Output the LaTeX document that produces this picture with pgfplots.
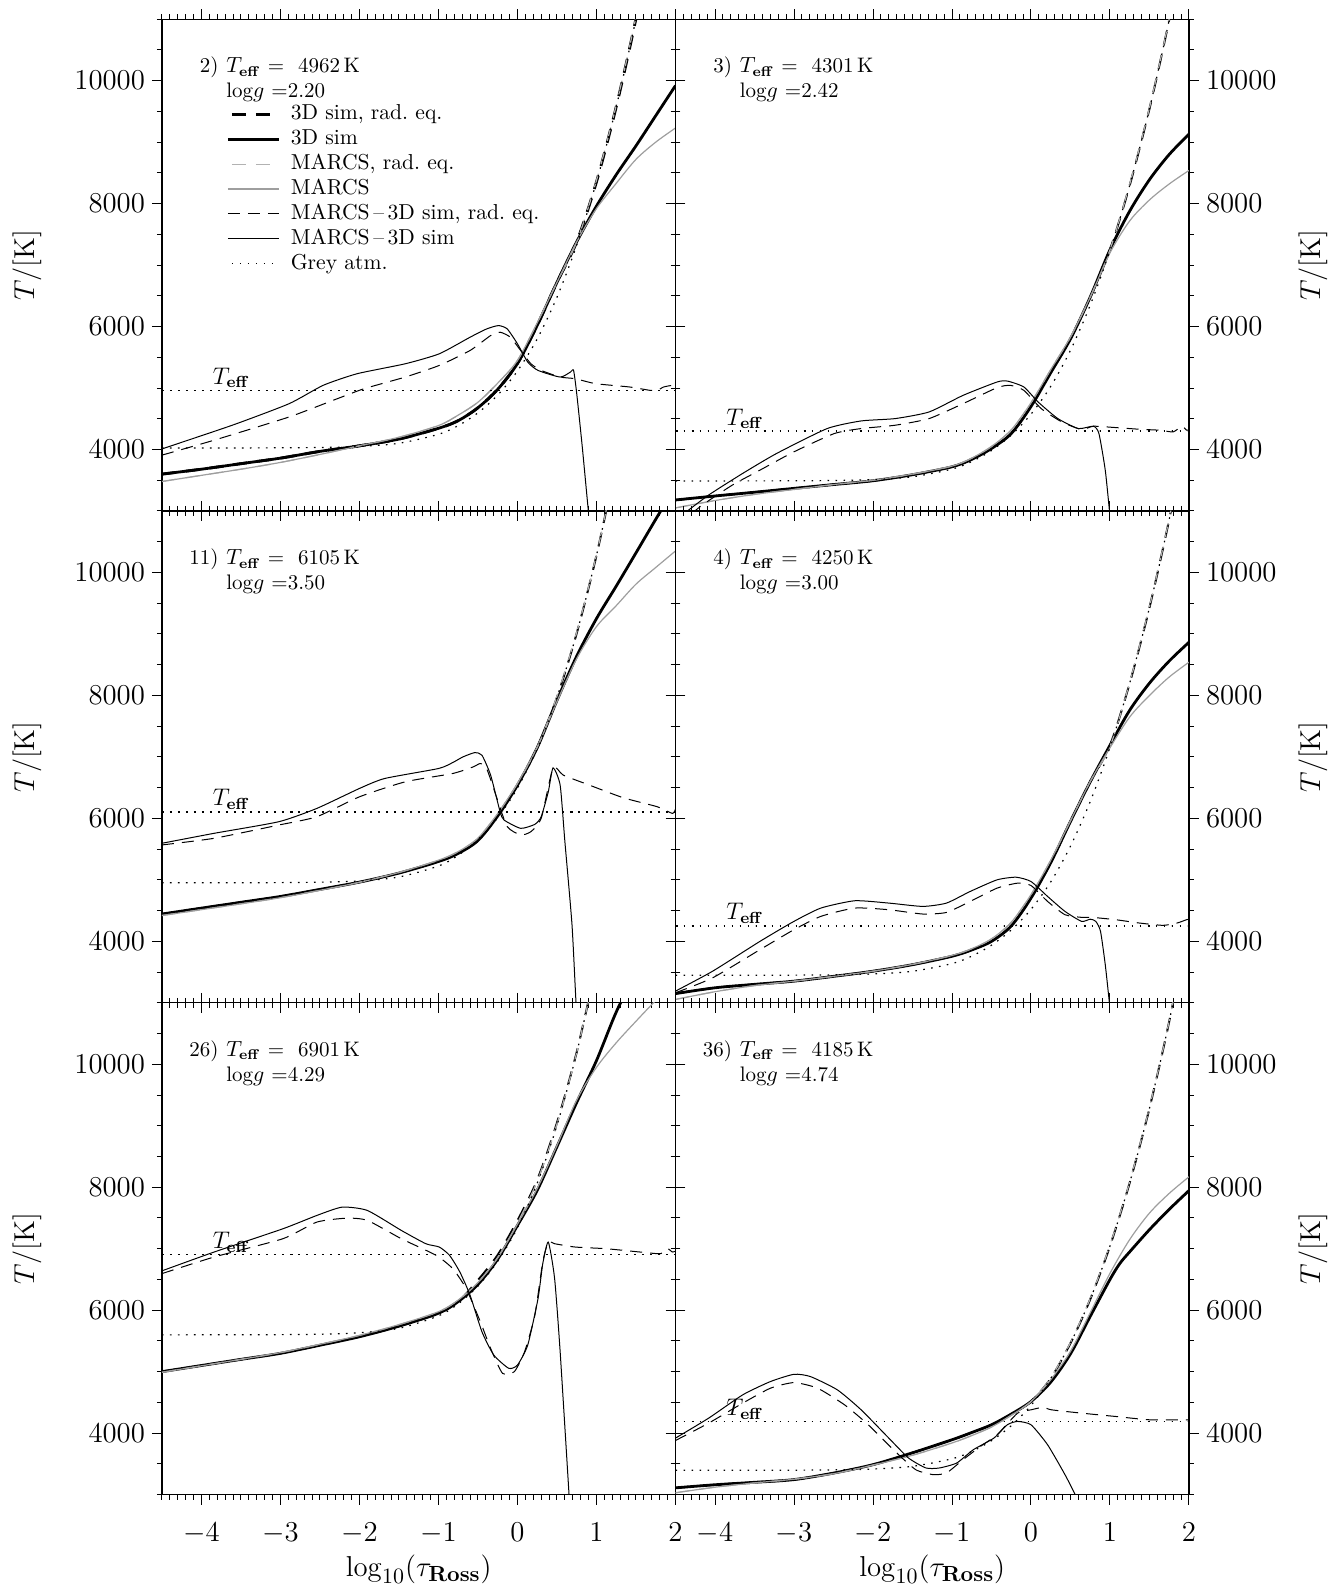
\documentclass[border=0pt]{standalone}
\usepackage{pgfplots}
\pgfplotsset{compat=1.18}
\tikzset{
  radsim/.style={black, line width=1.0pt, dash pattern=on 7pt off 5pt, smooth},
  sim/.style={black, line width=1.4pt, smooth},
  radmarcs/.style={black!30, line width=0.6pt, dash pattern=on 7pt off 5pt, smooth},
  marcs/.style={black!38, line width=0.6pt, smooth},
  drad/.style={black, line width=0.5pt, dash pattern=on 6pt off 4pt, smooth, tension=0.35},
  dsim/.style={black, line width=0.5pt, smooth, tension=0.35},
  greyatm/.style={black, line width=0.6pt, dash pattern=on 0.8pt off 3.2pt, smooth},
  tefflab/.style={anchor=south, font=\fontsize{12}{14}\selectfont, inner sep=1pt},
  numlab/.style={anchor=east, font=\fontsize{10.5}{12}\selectfont, inner sep=0pt},
  parlab/.style={anchor=west, font=\fontsize{10.5}{12}\selectfont, inner sep=0pt},
}
\pgfplotsset{
  panel/.style={
    scale only axis, width=256.75pt, height=245.9pt,
    xmin=-4.5, xmax=2, ymin=3000, ymax=11000,
    xtick={-4,-3,-2,-1,0,1,2},
    minor xtick={-4.5,-4.4,...,2.01},
    ytick={4000,6000,8000,10000},
    minor ytick={3000,3500,...,11000},
    scaled y ticks=false,
    tick align=outside,
    major tick length=5pt, minor tick length=2.5pt,
    tick style={black, line width=0.5pt},
    axis line style={line width=0.6pt},
    /pgf/number format/1000 sep={},
    tick label style={font=\fontsize{14}{16}\selectfont},
    xticklabel style={yshift=-5.5pt},
    anchor=south west, clip=true,
  },
  leftpanel/.style={panel, yticklabel pos=left,
    ylabel={$T/[\mathrm{K}]$},
    every axis y label/.style={at={(axis description cs:0,0.5)}, xshift=-67.5pt, rotate=90, anchor=center, font=\fontsize{15}{18}\selectfont}},
  rightpanel/.style={panel, yticklabel pos=right,
    ylabel={$T/[\mathrm{K}]$},
    every axis y label/.style={at={(axis description cs:1,0.5)}, xshift=62pt, rotate=90, anchor=center, font=\fontsize{15}{18}\selectfont}},
  notx/.style={xticklabels={}},
  botx/.style={xlabel={$\log_{10}(\tau_{\mathbf{Ross}})$},
    every axis x label/.style={at={(axis description cs:0.5,0)}, yshift=-37.5pt, anchor=center, font=\fontsize{15}{18}\selectfont}},
}
\begin{document}
\begin{tikzpicture}
\useasboundingbox (0,0) rectangle (671.5pt,793.5pt);

% ---------------- Panel 2 (top left)
\begin{axis}[leftpanel, notx, at={(81pt,538pt)},
  legend image code/.code={\draw[#1, dash phase=10pt] (0pt,0pt) -- (25.5pt,0pt);},
  legend cell align=left,
  legend style={at={(axis cs:-3.69,9630)}, anchor=north west, draw=none, fill=none, inner sep=0pt,
    font=\fontsize{10.8}{12}\selectfont, row sep=1.95pt, column sep=5.3pt,
    nodes={inner sep=0pt, text height=8pt, text depth=2.5pt}}]
\addplot[radsim, line width=1.4pt] coordinates {(-4.5,3600)(-4,3680)(-3.5,3770)(-3,3860)(-2.5,3970)(-2,4060)(-1.5,4170)(-1,4345)(-0.75,4470)(-0.5,4680)(-0.25,4980)(0,5400)(0.25,6020)(0.5,6720)(0.75,7380)(1,8354)(1.25,9576)(1.5,11011)(1.75,12685)};
\addlegendentry{3D sim, rad.\ eq.}
\addplot[sim] coordinates {(-4.5,3600)(-4,3680)(-3.5,3770)(-3,3860)(-2.5,3970)(-2,4060)(-1.5,4170)(-1,4345)(-0.75,4470)(-0.5,4680)(-0.25,4980)(0,5400)(0.25,6020)(0.5,6720)(0.75,7380)(1,7960)(1.25,8470)(1.5,8940)(1.75,9430)(2,9920)};
\addlegendentry{3D sim}
\addplot[radmarcs] coordinates {(-4.5,3480)(-4,3580)(-3.5,3680)(-3,3790)(-2.5,3920)(-2,4060)(-1.5,4200)(-1,4390)(-0.75,4560)(-0.5,4770)(-0.25,5080)(0,5450)(0.25,6060)(0.5,6720)(0.75,7380)(1,8380)(1.25,9600)(1.5,11040)(1.75,12700)};
\addlegendentry{MARCS, rad.\ eq.}
\addplot[marcs] coordinates {(-4.5,3480)(-4,3580)(-3.5,3680)(-3,3790)(-2.5,3920)(-2,4060)(-1.5,4200)(-1,4390)(-0.75,4560)(-0.5,4770)(-0.25,5080)(0,5450)(0.25,6060)(0.5,6720)(0.75,7380)(1,7920)(1.25,8330)(1.5,8720)(1.75,9000)(2,9230)};
\addlegendentry{MARCS}
\addplot[drad] coordinates {(-4.5,3909)(-3.84,4152)(-2.89,4530)(-2.28,4827)(-1.94,4990)(-1.42,5179)(-0.99,5368)(-0.60,5611)(-0.34,5854)(-0.22,5908)(-0.09,5827)(0.04,5611)(0.17,5395)(0.30,5287)(0.54,5179)(0.73,5152)(0.99,5071)(1.42,5017)(1.68,4962)(1.77,4962)(1.85,5017)(1.96,5044)(2,5030)};
\addlegendentry{MARCS\,--\,3D sim, rad.\ eq.}
\addplot[dsim] coordinates {(-4.5,4010)(-3.6,4400)(-2.89,4746)(-2.46,5044)(-2.03,5233)(-1.42,5395)(-0.99,5557)(-0.60,5827)(-0.39,5962)(-0.24,6016)(-0.13,5962)(0,5719)(0.13,5422)(0.26,5287)(0.54,5179)(0.67,5260)(0.71,5287)(0.75,4908)(0.82,4044)(0.90,2963)(0.92,2800)};
\addlegendentry{MARCS\,--\,3D sim}
\addplot[greyatm] coordinates {(-4.5,4025)(-4,4026)(-3.5,4026)(-3,4028)(-2.5,4033)(-2,4050)(-1.5,4102)(-1,4248)(-0.75,4389)(-0.5,4597)(-0.25,4886)(0,5278)(0.25,5800)(0.5,6478)(0.75,7325)(1,8354)(1.25,9576)(1.5,11011)(1.75,12685)};
\addlegendentry{Grey atm.}
\addplot[greyatm, forget plot] coordinates {(-4.5,4962)(2,4962)};
\node[tefflab] at (axis cs:-3.62,4962) {$T_{\mathbf{eff}}$};
\node[numlab] at (axis cs:-3.78,10220) {2)};
\node[parlab] at (axis cs:-3.69,10220) {$T_{\mathbf{eff}}$ = \ 4962\,K};
\node[parlab] at (axis cs:-3.69,9810) {log$g$ =2.20};
\end{axis}

% ---------------- Panel 3 (top right)
\begin{axis}[rightpanel, notx, at={(337.75pt,538pt)}]
\addplot[radsim] coordinates {(-4.5,3179)(-4,3244)(-3.5,3305)(-3,3368)(-2.5,3430)(-2,3492)(-1.5,3590)(-1,3719)(-0.75,3840)(-0.5,4017)(-0.25,4260)(0,4700)(0.25,5250)(0.5,5800)(0.75,6480)(1,7250)(1.25,8300)(1.5,9544)(1.75,10995)(2,12679)};
\addplot[sim] coordinates {(-4.5,3179)(-4,3244)(-3.5,3305)(-3,3368)(-2.5,3430)(-2,3492)(-1.5,3590)(-1,3719)(-0.75,3840)(-0.5,4017)(-0.25,4260)(0,4700)(0.25,5250)(0.5,5800)(0.75,6480)(1,7250)(1.25,7880)(1.5,8390)(1.75,8800)(2,9130)};
\addplot[radmarcs] coordinates {(-4.5,3050)(-4,3170)(-3.5,3270)(-3,3350)(-2.5,3430)(-2,3500)(-1.5,3600)(-1,3730)(-0.75,3860)(-0.5,4050)(-0.25,4320)(0,4760)(0.25,5300)(0.5,5830)(0.75,6480)(1,7250)(1.25,8320)(1.5,9560)(1.75,11010)(2,12690)};
\addplot[marcs] coordinates {(-4.5,3050)(-4,3170)(-3.5,3270)(-3,3350)(-2.5,3430)(-2,3500)(-1.5,3600)(-1,3730)(-0.75,3860)(-0.5,4050)(-0.25,4320)(0,4760)(0.25,5300)(0.5,5830)(0.75,6480)(1,7200)(1.25,7720)(1.5,8060)(1.75,8320)(2,8540)};
\addplot[drad] coordinates {(-4.3,2950)(-4.16,3098)(-3.78,3422)(-3.43,3665)(-3.00,3963)(-2.49,4260)(-2.15,4341)(-1.72,4395)(-1.29,4503)(-0.86,4746)(-0.43,5006)(-0.26,5044)(-0.09,4962)(0.13,4665)(0.39,4449)(0.64,4325)(0.79,4379)(1.07,4357)(1.37,4330)(1.63,4314)(1.80,4287)(1.91,4379)(1.97,4314)(2,4320)};
\addplot[dsim] coordinates {(-4.4,2950)(-4.08,3260)(-3.65,3611)(-3.22,3936)(-2.58,4341)(-2.15,4465)(-1.72,4503)(-1.29,4611)(-0.86,4881)(-0.43,5098)(-0.30,5114)(-0.09,5017)(0.09,4773)(0.34,4503)(0.60,4341)(0.79,4379)(0.86,4260)(0.94,3665)(0.996,2963)(1.0,2850)};
\addplot[greyatm] coordinates {(-4.5,3489)(-4,3489)(-3.5,3490)(-3,3491)(-2.5,3496)(-2,3510)(-1.5,3556)(-1,3682)(-0.75,3804)(-0.5,3984)(-0.25,4235)(0,4575)(0.25,5027)(0.5,5615)(0.75,6350)(1,7241)(1.25,8300)(1.5,9544)(1.75,10995)(2,12679)};
\addplot[greyatm] coordinates {(-4.5,4301)(2,4301)};
\node[tefflab] at (axis cs:-3.62,4301) {$T_{\mathbf{eff}}$};
\node[numlab] at (axis cs:-3.78,10220) {3)};
\node[parlab] at (axis cs:-3.69,10220) {$T_{\mathbf{eff}}$ = \ 4301\,K};
\node[parlab] at (axis cs:-3.69,9810) {log$g$ =2.42};
\end{axis}

% ---------------- Panel 11 (middle left)
\begin{axis}[leftpanel, notx, at={(81pt,292.1pt)}]
\addplot[radsim] coordinates {(-4.5,4444)(-4,4540)(-3.5,4635)(-3,4730)(-2.5,4845)(-2,4963)(-1.5,5110)(-1,5298)(-0.75,5430)(-0.5,5640)(-0.25,6040)(0,6541)(0.25,7150)(0.5,7970)(0.75,9013)(1,10278)(1.25,11781)};
\addplot[sim] coordinates {(-4.5,4444)(-4,4540)(-3.5,4635)(-3,4730)(-2.5,4845)(-2,4963)(-1.5,5110)(-1,5298)(-0.75,5430)(-0.5,5640)(-0.25,6040)(0,6541)(0.25,7150)(0.5,7920)(0.75,8640)(1,9250)(1.25,9778)(1.5,10319)(1.75,10865)(2,11400)};
\addplot[radmarcs] coordinates {(-4.5,4420)(-4,4515)(-3.5,4610)(-3,4710)(-2.5,4830)(-2,4960)(-1.5,5120)(-1,5320)(-0.75,5460)(-0.5,5680)(-0.25,6080)(0,6570)(0.25,7160)(0.5,7990)(0.75,9030)(1,10290)(1.25,11790)};
\addplot[marcs] coordinates {(-4.5,4420)(-4,4515)(-3.5,4610)(-3,4710)(-2.5,4830)(-2,4960)(-1.5,5120)(-1,5320)(-0.75,5460)(-0.5,5680)(-0.25,6080)(0,6570)(0.25,7160)(0.5,7900)(0.75,8600)(1,9120)(1.25,9460)(1.5,9810)(1.75,10081)(2,10350)};
\addplot[drad] coordinates {(-4.5,5568)(-3.84,5676)(-3.02,5892)(-2.54,6027)(-2,6351)(-1.42,6595)(-0.82,6730)(-0.56,6838)(-0.47,6892)(-0.39,6811)(-0.26,6325)(-0.13,5865)(0.04,5730)(0.17,5784)(0.30,6000)(0.45,6822)(0.58,6703)(0.91,6541)(1.34,6335)(1.77,6189)(1.96,6081)(2,6150)};
\addplot[dsim] coordinates {(-4.5,5595)(-3.84,5757)(-3.02,5946)(-2.54,6162)(-2.0,6487)(-1.68,6649)(-1,6811)(-0.82,6908)(-0.69,7000)(-0.54,7070)(-0.45,7027)(-0.34,6703)(-0.22,6108)(-0.17,5973)(0.04,5838)(0.22,5903)(0.30,6027)(0.39,6433)(0.45,6822)(0.54,6541)(0.60,5622)(0.69,4271)(0.74,3027)(0.76,2850)};
\addplot[greyatm] coordinates {(-4.5,4952)(-4,4953)(-3.5,4954)(-3,4955)(-2.5,4962)(-2,4983)(-1.5,5047)(-1,5226)(-0.75,5400)(-0.5,5656)(-0.25,6012)(0,6493)(0.25,7136)(0.5,7970)(0.75,9013)(1,10278)(1.25,11781)};
\addplot[greyatm] coordinates {(-4.5,6105)(2,6105)};
\node[tefflab] at (axis cs:-3.62,6105) {$T_{\mathbf{eff}}$};
\node[numlab] at (axis cs:-3.78,10220) {11)};
\node[parlab] at (axis cs:-3.69,10220) {$T_{\mathbf{eff}}$ = \ 6105\,K};
\node[parlab] at (axis cs:-3.69,9810) {log$g$ =3.50};
\end{axis}

% ---------------- Panel 4 (middle right)
\begin{axis}[rightpanel, notx, at={(337.75pt,292.1pt)}]
\addplot[radsim] coordinates {(-4.5,3150)(-4,3244)(-3.5,3300)(-3,3352)(-2.5,3430)(-2,3514)(-1.5,3620)(-1,3757)(-0.75,3860)(-0.5,4000)(-0.25,4250)(0,4703)(0.25,5280)(0.5,5950)(0.75,6595)(1,7189)(1.25,8202)(1.5,9431)(1.75,10865)(2,12529)};
\addplot[sim] coordinates {(-4.5,3150)(-4,3244)(-3.5,3300)(-3,3352)(-2.5,3430)(-2,3514)(-1.5,3620)(-1,3757)(-0.75,3860)(-0.5,4000)(-0.25,4250)(0,4703)(0.25,5280)(0.5,5950)(0.75,6595)(1,7189)(1.25,7760)(1.5,8200)(1.75,8560)(2,8865)};
\addplot[radmarcs] coordinates {(-4.5,3055)(-4,3180)(-3.5,3280)(-3,3352)(-2.5,3430)(-2,3514)(-1.5,3625)(-1,3770)(-0.75,3880)(-0.5,4040)(-0.25,4310)(0,4760)(0.25,5320)(0.5,5960)(0.75,6600)(1,7170)(1.25,8215)(1.5,9445)(1.75,10880)(2,12540)};
\addplot[marcs] coordinates {(-4.5,3055)(-4,3180)(-3.5,3280)(-3,3352)(-2.5,3430)(-2,3514)(-1.5,3625)(-1,3770)(-0.75,3880)(-0.5,4040)(-0.25,4310)(0,4760)(0.25,5320)(0.5,5960)(0.75,6600)(1,7150)(1.25,7650)(1.5,8000)(1.75,8300)(2,8541)};
\addplot[drad] coordinates {(-4.5,3163)(-4.03,3406)(-3.43,3865)(-3.00,4190)(-2.66,4406)(-2.23,4541)(-1.80,4514)(-1.37,4444)(-1.07,4470)(-0.77,4649)(-0.43,4865)(-0.17,4946)(0,4908)(0.21,4649)(0.43,4433)(0.64,4390)(0.77,4390)(1.07,4352)(1.37,4298)(1.67,4260)(1.85,4298)(1.97,4352)(2,4360)};
\addplot[dsim] coordinates {(-4.5,3190)(-4.03,3514)(-3.43,4000)(-3.00,4325)(-2.66,4541)(-2.23,4660)(-1.80,4622)(-1.37,4568)(-1.07,4622)(-0.77,4811)(-0.43,5000)(-0.19,5043)(0,4973)(0.21,4730)(0.43,4487)(0.64,4325)(0.75,4360)(0.82,4325)(0.88,4163)(0.94,3622)(0.99,3027)(1.0,2850)};
\addplot[greyatm] coordinates {(-4.5,3448)(-4,3448)(-3.5,3448)(-3,3450)(-2.5,3454)(-2,3469)(-1.5,3513)(-1,3638)(-0.75,3759)(-0.5,3937)(-0.25,4185)(0,4520)(0.25,4967)(0.5,5548)(0.75,6274)(1,7155)(1.25,8202)(1.5,9431)(1.75,10865)(2,12529)};
\addplot[greyatm] coordinates {(-4.5,4250)(2,4250)};
\node[tefflab] at (axis cs:-3.62,4250) {$T_{\mathbf{eff}}$};
\node[numlab] at (axis cs:-3.78,10220) {4)};
\node[parlab] at (axis cs:-3.69,10220) {$T_{\mathbf{eff}}$ = \ 4250\,K};
\node[parlab] at (axis cs:-3.69,9810) {log$g$ =3.00};
\end{axis}

% ---------------- Panel 26 (bottom left)
\begin{axis}[leftpanel, botx, at={(81pt,46.2pt)}]
\addplot[radsim] coordinates {(-4.5,5000)(-4,5100)(-3.5,5200)(-3,5298)(-2.5,5430)(-2,5568)(-1.5,5740)(-1,5950)(-0.75,6140)(-0.5,6490)(-0.25,6900)(0,7460)(0.25,8120)(0.5,9050)(0.75,10200)(1,11618)};
\addplot[sim] coordinates {(-4.5,5000)(-4,5100)(-3.5,5200)(-3,5298)(-2.5,5430)(-2,5568)(-1.5,5740)(-1,5950)(-0.75,6140)(-0.5,6420)(-0.25,6830)(0,7379)(0.25,7950)(0.5,8660)(0.75,9380)(1,10060)(1.25,10850)(1.5,11500)};
\addplot[radmarcs] coordinates {(-4.5,4990)(-4,5095)(-3.5,5200)(-3,5310)(-2.5,5445)(-2,5590)(-1.5,5765)(-1,5975)(-0.75,6165)(-0.5,6450)(-0.25,6860)(0,7420)(0.25,8100)(0.5,9030)(0.75,10195)(1,11618)};
\addplot[marcs] coordinates {(-4.5,4990)(-4,5095)(-3.5,5200)(-3,5310)(-2.5,5445)(-2,5590)(-1.5,5765)(-1,5975)(-0.75,6165)(-0.5,6450)(-0.25,6850)(0,7400)(0.25,7980)(0.5,8680)(0.75,9420)(1,9950)(1.25,10350)(1.5,10700)(1.75,11040)};
\addplot[drad] coordinates {(-4.5,6595)(-3.84,6865)(-2.97,7162)(-2.54,7433)(-2.16,7497)(-1.90,7460)(-1.47,7162)(-1.03,6892)(-0.82,6676)(-0.65,6352)(-0.47,5811)(-0.34,5378)(-0.19,4973)(-0.04,5000)(0.09,5324)(0.22,5919)(0.32,6784)(0.39,7108)(0.47,7081)(0.73,7027)(1.12,7000)(1.55,6946)(1.81,6919)(1.90,7000)(1.96,6946)(2,6960)};
\addplot[dsim] coordinates {(-4.5,6640)(-3.84,6946)(-2.97,7324)(-2.54,7541)(-2.22,7676)(-1.90,7622)(-1.47,7297)(-1.16,7081)(-0.99,7027)(-0.86,6892)(-0.73,6622)(-0.60,6243)(-0.45,5649)(-0.30,5270)(-0.11,5054)(0,5108)(0.13,5433)(0.26,6189)(0.32,6757)(0.39,7108)(0.47,6514)(0.54,5325)(0.65,3054)(0.66,2850)};
\addplot[greyatm] coordinates {(-4.5,5598)(-4,5599)(-3.5,5600)(-3,5602)(-2.5,5609)(-2,5633)(-1.5,5705)(-1,5908)(-0.75,6104)(-0.5,6393)(-0.25,6795)(0,7340)(0.25,8066)(0.5,9009)(0.75,10188)(1,11618)};
\addplot[greyatm] coordinates {(-4.5,6901)(2,6901)};
\node[tefflab] at (axis cs:-3.62,6901) {$T_{\mathbf{eff}}$};
\node[numlab] at (axis cs:-3.78,10220) {26)};
\node[parlab] at (axis cs:-3.69,10220) {$T_{\mathbf{eff}}$ = \ 6901\,K};
\node[parlab] at (axis cs:-3.69,9810) {log$g$ =4.29};
\end{axis}

% ---------------- Panel 36 (bottom right)
\begin{axis}[rightpanel, botx, at={(337.75pt,46.2pt)}]
\addplot[radsim] coordinates {(-4.5,3110)(-4,3160)(-3.5,3200)(-3,3244)(-2.5,3350)(-2,3487)(-1.5,3680)(-1,3892)(-0.75,4010)(-0.5,4136)(-0.25,4310)(0,4514)(0.25,4891)(0.5,5464)(0.75,6178)(1,7045)(1.25,8076)(1.5,9287)(1.75,10699)(2,12337)};
\addplot[sim] coordinates {(-4.5,3110)(-4,3160)(-3.5,3200)(-3,3244)(-2.5,3350)(-2,3487)(-1.5,3680)(-1,3892)(-0.75,4010)(-0.5,4136)(-0.25,4310)(0,4514)(0.25,4830)(0.5,5290)(0.75,5900)(1,6500)(1.125,6760)(1.25,6950)(1.5,7310)(1.75,7640)(2,7946)};
\addplot[radmarcs] coordinates {(-4.5,3030)(-4,3120)(-3.5,3190)(-3,3250)(-2.5,3340)(-2,3480)(-1.5,3640)(-1,3840)(-0.75,3960)(-0.5,4100)(-0.25,4290)(0,4514)(0.25,4900)(0.5,5475)(0.75,6190)(1,7060)(1.25,8090)(1.5,9300)(1.75,10710)(2,12350)};
\addplot[marcs] coordinates {(-4.5,3030)(-4,3120)(-3.5,3190)(-3,3250)(-2.5,3340)(-2,3480)(-1.5,3640)(-1,3840)(-0.75,3960)(-0.5,4100)(-0.25,4290)(0,4514)(0.25,4870)(0.5,5330)(0.75,5960)(1,6600)(1.25,7150)(1.5,7580)(1.75,7900)(2,8170)};
\addplot[drad] coordinates {(-4.5,3880)(-4.08,4163)(-3.65,4487)(-3.30,4730)(-3.00,4822)(-2.70,4730)(-2.36,4460)(-2.06,4136)(-1.72,3703)(-1.46,3406)(-1.24,3325)(-1.07,3352)(-0.86,3568)(-0.64,3784)(-0.43,3973)(-0.17,4325)(0,4379)(0.15,4420)(0.26,4379)(0.64,4325)(1.07,4271)(1.50,4217)(2,4217)};
\addplot[dsim] coordinates {(-4.5,3919)(-4.08,4244)(-3.65,4622)(-3.30,4838)(-3.00,4957)(-2.79,4919)(-2.45,4703)(-2.15,4379)(-1.80,3919)(-1.55,3595)(-1.33,3433)(-1.16,3433)(-0.94,3514)(-0.73,3730)(-0.47,3919)(-0.30,4136)(-0.17,4190)(0,4136)(0.21,3811)(0.43,3325)(0.56,3000)(0.6,2900)};
\addplot[greyatm] coordinates {(-4.5,3395)(-4,3395)(-3.5,3396)(-3,3397)(-2.5,3402)(-2,3416)(-1.5,3460)(-1,3583)(-0.75,3702)(-0.5,3877)(-0.25,4121)(0,4451)(0.25,4891)(0.5,5464)(0.75,6178)(1,7045)(1.25,8076)(1.5,9287)(1.75,10699)(2,12337)};
\addplot[greyatm] coordinates {(-4.5,4185)(2,4185)};
\node[tefflab] at (axis cs:-3.62,4185) {$T_{\mathbf{eff}}$};
\node[numlab] at (axis cs:-3.78,10220) {36)};
\node[parlab] at (axis cs:-3.69,10220) {$T_{\mathbf{eff}}$ = \ 4185\,K};
\node[parlab] at (axis cs:-3.69,9810) {log$g$ =4.74};
\end{axis}
\end{tikzpicture}
\end{document}
